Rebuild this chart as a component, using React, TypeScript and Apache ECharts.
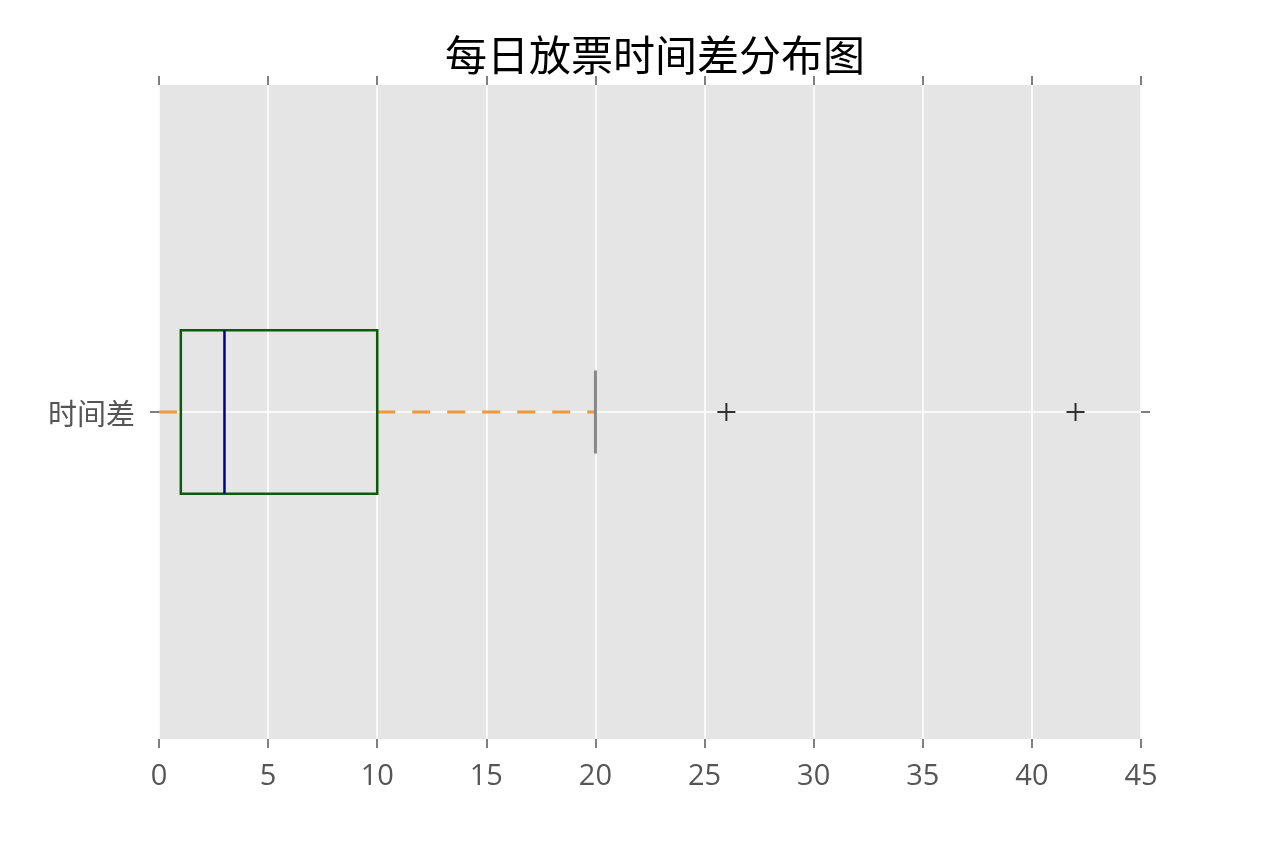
import React, { useEffect, useRef } from "react";
import * as echarts from "echarts";

const titleText = "每日放票时间差分布图";
const categoryLabel = "时间差";
// [lower whisker, Q1, median, Q3, upper whisker]
const boxStats = [0, 1, 3, 10, 20];
const outliers = [26, 42];

export default function App() {
  const ref = useRef<HTMLDivElement>(null);
  useEffect(() => {
    if (!ref.current) return;
    const chart = echarts.init(ref.current, null, { renderer: "svg" });
    const tickStyle = () => ({ show: true, inside: false, length: 9, lineStyle: { color: "#555", width: 1.5 } });
    const noLine = () => ({ show: false, onZero: false });
    const cjk = "'Noto Sans CJK SC', sans-serif";
    const latin = "'Open Sans', 'Noto Sans', sans-serif";
    chart.setOption({
      animation: false,
      title: {
        text: titleText,
        left: 440,
        top: 26,
        textStyle: { fontFamily: cjk, fontSize: 42, fontWeight: "normal", color: "#000" },
      },
      grid: {
        left: 159,
        right: 128,
        top: 85,
        bottom: 107,
        show: true,
        backgroundColor: "#e5e5e5",
        borderWidth: 0,
      },
      xAxis: [
        {
          type: "value",
          min: 0,
          max: 45,
          interval: 5,
          axisLine: noLine(),
          axisTick: tickStyle(),
          axisLabel: { color: "#555", fontSize: 29, fontFamily: latin, margin: 20 },
          splitLine: { show: true, lineStyle: { color: "#fff", width: 1.5 } },
        },
        {
          type: "value",
          position: "top",
          min: 0,
          max: 45,
          interval: 5,
          axisLine: noLine(),
          axisTick: tickStyle(),
          axisLabel: { show: false },
          splitLine: { show: false },
        },
      ],
      yAxis: [
        {
          type: "value",
          min: 0,
          max: 2,
          axisLine: noLine(),
          axisTick: { ...tickStyle(), customValues: [1] },
          axisLabel: {
            customValues: [1],
            formatter: () => categoryLabel,
            color: "#555",
            fontSize: 29,
            fontFamily: cjk,
            margin: 24,
          },
          splitLine: { show: false },
        },
        {
          type: "value",
          position: "right",
          min: 0,
          max: 2,
          axisLine: noLine(),
          axisTick: { ...tickStyle(), customValues: [1] },
          axisLabel: { show: false },
          splitLine: { show: false },
        },
      ],
      series: [
        {
          type: "custom",
          xAxisIndex: 0,
          yAxisIndex: 0,
          data: [boxStats],
          clip: false,
          renderItem: (params: any, api: any) => {
            const lo = api.value(0);
            const q1 = api.value(1);
            const med = api.value(2);
            const q3 = api.value(3);
            const hi = api.value(4);
            const pLo = api.coord([lo, 1]);
            const pQ1 = api.coord([q1, 1]);
            const pMed = api.coord([med, 1]);
            const pQ3 = api.coord([q3, 1]);
            const pHi = api.coord([hi, 1]);
            const top = api.coord([0, 1.25])[1];
            const bot = api.coord([0, 0.75])[1];
            const capTop = api.coord([0, 1.127])[1];
            const capBot = api.coord([0, 0.873])[1];
            const gridL = api.coord([0, 1])[0];
            const gridR = api.coord([45, 1])[0];
            const whisker = { stroke: "#ee9a3a", lineWidth: 3, lineDash: [18, 17] };
            return {
              type: "group",
              children: [
                { type: "line", shape: { x1: gridL, y1: pLo[1], x2: gridR, y2: pLo[1] }, style: { stroke: "#fff", lineWidth: 1.5 } },
                { type: "line", shape: { x1: pLo[0], y1: pLo[1], x2: pQ1[0], y2: pQ1[1] }, style: whisker },
                { type: "line", shape: { x1: pQ3[0], y1: pQ3[1], x2: pHi[0], y2: pHi[1] }, style: whisker },
                { type: "line", shape: { x1: pHi[0], y1: capTop, x2: pHi[0], y2: capBot }, style: { stroke: "#888", lineWidth: 3 } },
                { type: "rect", shape: { x: pQ1[0], y: top, width: pQ3[0] - pQ1[0], height: bot - top }, style: { fill: "none", stroke: "#0a5c0a", lineWidth: 2.5 } },
                { type: "line", shape: { x1: pMed[0], y1: top, x2: pMed[0], y2: bot }, style: { stroke: "#00008b", lineWidth: 2.5 } },
              ],
            };
          },
        },
        {
          type: "scatter",
          xAxisIndex: 0,
          yAxisIndex: 0,
          data: outliers.map((v) => [v, 1]),
          symbol: "path://M-1,-9H1V9H-1Z M-9,-1H9V1H-9Z",
          symbolSize: 18,
          itemStyle: { color: "#000" },
        },
      ],
    });
    return () => chart.dispose();
  }, []);
  return <div ref={ref} style={{ position: "fixed", left: 0, top: 0, width: 1269, height: 846 }} />;
}
